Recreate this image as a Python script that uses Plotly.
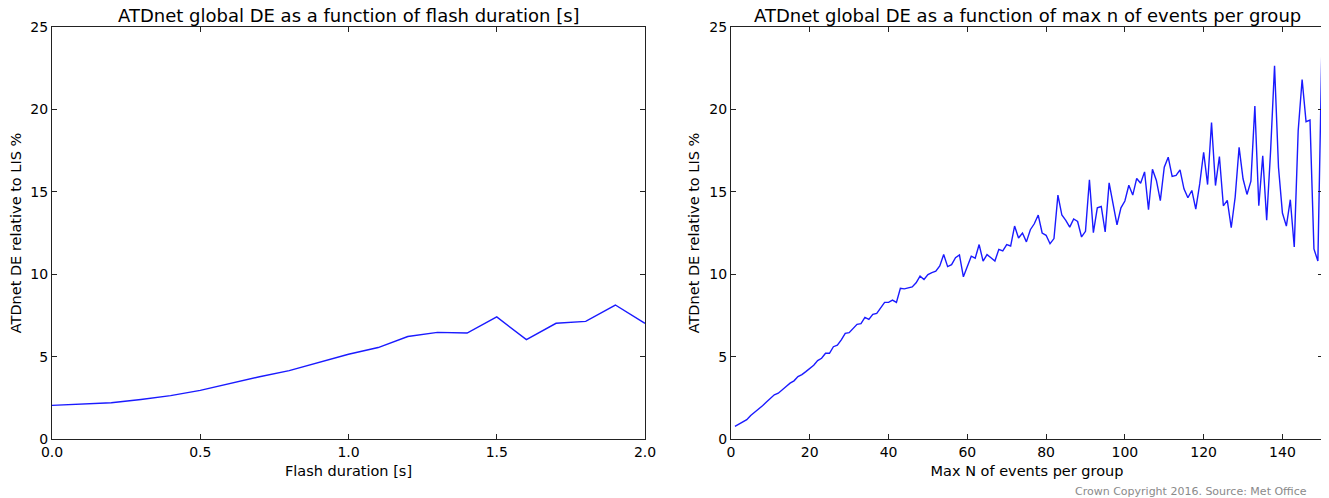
import plotly.graph_objects as go

# Left panel: flash duration vs DE
flash_duration = [0.0, 0.1, 0.2, 0.3, 0.4, 0.5, 0.6, 0.7, 0.8, 0.9, 1.0,
                  1.1, 1.2, 1.3, 1.4, 1.5, 1.6, 1.7, 1.8, 1.9, 2.0]
de_flash = [2.04, 2.14, 2.2, 2.4, 2.63, 2.95, 3.37, 3.78, 4.15, 4.66, 5.14,
            5.55, 6.22, 6.47, 6.43, 7.41, 6.03, 7.02, 7.14, 8.13, 7.02]

# Right panel: max N of events per group vs DE
max_n = list(range(1, 151))
de_maxn = [
    0.77, 0.91, 1.05, 1.17, 1.43, 1.61, 1.79, 2.02, 2.24, 2.46,
    2.68, 2.78, 2.96, 3.19, 3.39, 3.53, 3.79, 3.91, 4.09, 4.29,
    4.48, 4.76, 4.90, 5.20, 5.20, 5.60, 5.69, 6.01, 6.41, 6.45,
    6.71, 6.96, 7.00, 7.38, 7.26, 7.56, 7.62, 7.92, 8.29, 8.29,
    8.43, 8.29, 9.15, 9.11, 9.19, 9.23, 9.48, 9.88, 9.68, 9.98,
    10.1, 10.18, 10.5, 11.19, 10.46, 10.58, 11.0, 11.17, 9.84, 10.44,
    11.09, 10.97, 11.8, 10.79, 11.19, 11.0, 10.8, 11.51, 11.41, 11.8,
    11.71, 12.92, 12.2, 12.5, 11.96, 12.7, 13.06, 13.59, 12.5, 12.36,
    11.85, 12.16, 14.8, 13.59, 13.27, 12.86, 13.35, 13.2, 12.26, 12.6,
    15.73, 12.52, 14.03, 14.11, 12.56, 15.54, 14.27, 13.0, 14.03, 14.44,
    15.4, 14.8, 15.81, 15.52, 16.21, 13.91, 16.37, 15.69, 14.46, 16.49,
    17.1, 15.93, 16.0, 16.33, 15.18, 14.64, 15.08, 13.95, 15.48, 17.4,
    15.44, 19.21, 15.38, 17.14, 14.15, 14.48, 12.82, 14.68, 17.7, 15.79,
    14.84, 15.65, 20.2, 14.15, 17.18, 13.27, 17.5, 22.64, 16.49, 13.71,
    12.92, 14.52, 11.65, 18.71, 21.81, 19.25, 19.35, 11.53, 10.8, 23.6,
]

left_title = "ATDnet global DE as a function of flash duration [s]"
right_title = "ATDnet global DE as a function of max n of events per group"
left_xlabel = "Flash duration [s]"
right_xlabel = "Max N of events per group"
ylabel = "ATDnet DE relative to LIS %"
credit = "Crown Copyright 2016. Source: Met Office"

# The page body has an 8px default margin; size the figure to fill the rest.
OFF = 8
W, H = 1329 - OFF, 498 - OFF
FONT = "DejaVu Sans"


def px(x):
    return (x - OFF) / W


def py(y):
    return 1 - (y - OFF) / H


fig = go.Figure()
fig.add_trace(go.Scatter(x=flash_duration, y=de_flash, mode="lines",
                         line=dict(color="#1a1aff", width=1.4),
                         xaxis="x", yaxis="y", showlegend=False))
fig.add_trace(go.Scatter(x=max_n, y=de_maxn, mode="lines",
                         line=dict(color="#1a1aff", width=1.4),
                         xaxis="x2", yaxis="y2", showlegend=False))

ax_common = dict(showline=True, linecolor="#222222", linewidth=1.2, mirror="ticks",
                 ticks="inside", ticklen=5, tickcolor="#222222", showgrid=False,
                 zeroline=False, automargin=False,
                 tickfont=dict(family=FONT, size=14, color="black"))

ydom = [py(439), py(27)]
xtitle_font = dict(family=FONT, size=14.5, color="black")
fig.update_layout(
    width=W, height=H,
    margin=dict(l=0, r=0, t=0, b=0),
    paper_bgcolor="white", plot_bgcolor="white",
    font=dict(family=FONT, color="black"),
    xaxis=dict(domain=[px(52), px(645)], range=[0, 2], dtick=0.5, tickformat=".1f",
               anchor="y", title=dict(text=left_xlabel, font=xtitle_font, standoff=6),
               **ax_common),
    yaxis=dict(domain=ydom, range=[0, 25], dtick=5, anchor="x",
               title=dict(text=ylabel, font=xtitle_font, standoff=6),
               **ax_common),
    xaxis2=dict(domain=[px(731), px(1323)], range=[0, 150.3], dtick=20,
                anchor="y2", title=dict(text=right_xlabel, font=xtitle_font, standoff=6),
                **ax_common),
    yaxis2=dict(domain=ydom, range=[0, 25], dtick=5, anchor="x2",
                title=dict(text=ylabel, font=xtitle_font, standoff=6),
                **ax_common),
    annotations=[
        dict(text=left_title, x=px((52 + 645) / 2), y=py(16), xref="paper", yref="paper",
             xanchor="center", yanchor="middle", showarrow=False,
             font=dict(family=FONT, size=18, color="black")),
        dict(text=right_title, x=px((731 + 1323) / 2), y=py(16), xref="paper", yref="paper",
             xanchor="center", yanchor="middle", showarrow=False,
             font=dict(family=FONT, size=18, color="black")),
        dict(text=credit, x=px(1309), y=py(491), xref="paper", yref="paper",
             xanchor="right", yanchor="middle", showarrow=False,
             font=dict(family=FONT, size=11, color="#8a8a8a")),
    ],
)

fig.write_html("out.html")
